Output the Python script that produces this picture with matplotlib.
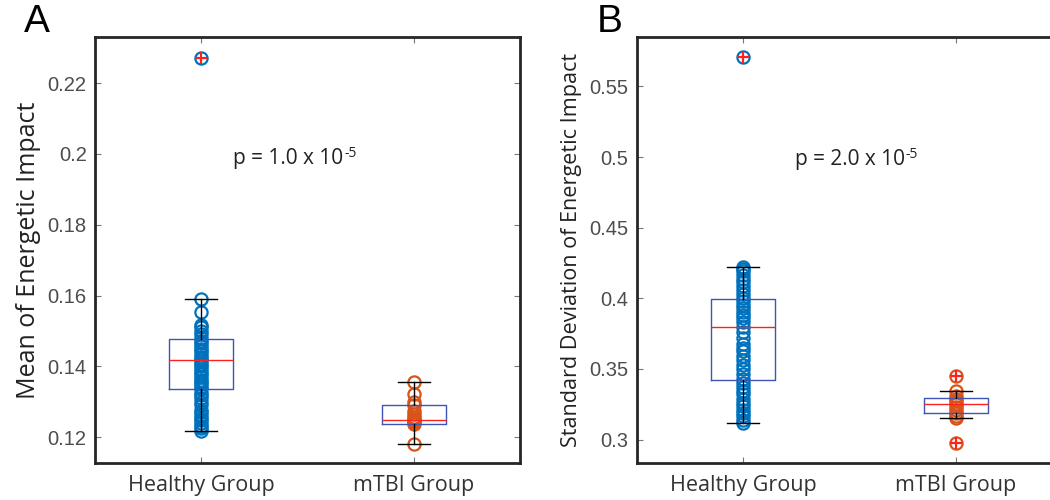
import numpy as np
import matplotlib
matplotlib.use("Agg")
import matplotlib.pyplot as plt

# ---------------- data ----------------
groups = ["Healthy Group", "mTBI Group"]

mean_healthy = [0.1218, 0.1225, 0.1232, 0.1240, 0.1248, 0.1255, 0.1262, 0.1270, 0.1278,
                0.1290, 0.1300, 0.1310, 0.1318, 0.1326, 0.1335, 0.1342, 0.1350, 0.1356,
                0.1362, 0.1370, 0.1378, 0.1385, 0.1392, 0.1400, 0.1407, 0.1414, 0.1420,
                0.1427, 0.1434, 0.1442, 0.1450, 0.1458, 0.1465, 0.1472, 0.1480, 0.1490,
                0.1500, 0.1510, 0.1518, 0.1554, 0.1589, 0.2271]
mean_mtbi = [0.1181, 0.1238, 0.1242, 0.1245, 0.1248, 0.1252, 0.1258, 0.1265, 0.1275,
             0.1290, 0.1300, 0.1321, 0.1355]

std_healthy = [0.3120, 0.3140, 0.3165, 0.3190, 0.3210, 0.3235, 0.3260, 0.3290, 0.3320,
               0.3345, 0.3370, 0.3400, 0.3430, 0.3465, 0.3500, 0.3530, 0.3560, 0.3590,
               0.3625, 0.3650, 0.3680, 0.3720, 0.3760, 0.3800, 0.3830, 0.3860, 0.3880,
               0.3905, 0.3930, 0.3955, 0.3980, 0.4005, 0.4030, 0.4060, 0.4090, 0.4115,
               0.4140, 0.4165, 0.4190, 0.4210, 0.4223, 0.5706]
std_mtbi = [0.2973, 0.3153, 0.3170, 0.3190, 0.3210, 0.3230, 0.3250, 0.3270, 0.3290,
            0.3310, 0.3345, 0.3450]

# box statistics (whislo, q1, med, q3, whishi) per group
mean_box_healthy = [0.1218, 0.1337, 0.1417, 0.1477, 0.1589]
mean_box_mtbi = [0.1181, 0.1238, 0.1248, 0.1292, 0.1355]
mean_fliers_healthy = [0.2271]
mean_fliers_mtbi = []

std_box_healthy = [0.3120, 0.3425, 0.3798, 0.3992, 0.4223]
std_box_mtbi = [0.3153, 0.3186, 0.3250, 0.3291, 0.3345]
std_fliers_healthy = [0.5706]
std_fliers_mtbi = [0.3450, 0.2973]

mean_yticks = [0.12, 0.14, 0.16, 0.18, 0.2, 0.22]
mean_yticklabels = ["0.12", "0.14", "0.16", "0.18", "0.2", "0.22"]
std_yticks = [0.3, 0.35, 0.4, 0.45, 0.5, 0.55]
std_yticklabels = ["0.3", "0.35", "0.4", "0.45", "0.5", "0.55"]

p_base_A = "p = 1.0 x 10"
p_base_B = "p = 2.0 x 10"
p_exp = "-5"

# ---------------- style ----------------
BLUE = "#0072BD"
ORANGE = "#D95319"
BOXC = "#3f55b4"
MEDC = "#ff2020"
TICKC = "#4d4d4d"
LABEL_FONT = "Open Sans"
TICK_FONT = "Liberation Sans"

fig = plt.figure(figsize=(10.5, 5.0), dpi=100)


def make_stats(box, fliers):
    return dict(whislo=box[0], q1=box[1], med=box[2], q3=box[3], whishi=box[4],
                fliers=fliers)


def panel(rect, pts, boxes, fliers, ylim, yticks, yticklabels, ylabel, ylabel_size,
          pbase, ptxy, letter, letterx):
    ax = fig.add_axes(rect)
    colors = [BLUE, ORANGE]
    for i, (vals, c) in enumerate(zip(pts, colors)):
        ax.plot(np.full(len(vals), i + 1.0), vals, 'o', mfc='none', mec=c,
                ms=8.8, mew=1.6, zorder=2)
    stats = [make_stats(b, f) for b, f in zip(boxes, fliers)]
    ax.bxp(stats, positions=[1, 2], widths=0.30, capwidths=0.15, showfliers=True,
           boxprops=dict(color=BOXC, linewidth=1.0),
           medianprops=dict(color=MEDC, linewidth=1.0),
           whiskerprops=dict(color='black', linewidth=1.0),
           capprops=dict(color='black', linewidth=1.0),
           flierprops=dict(marker='+', markeredgecolor=MEDC, markersize=9,
                           markeredgewidth=1.6, linestyle='none'),
           manage_ticks=False, zorder=3)
    ax.set_xlim(0.5, 2.5)
    ax.set_ylim(*ylim)
    ax.set_xticks([1, 2])
    ax.set_xticklabels(groups, fontfamily=LABEL_FONT, fontsize=15.5, color="#333333")
    ax.set_yticks(yticks)
    ax.set_yticklabels(yticklabels, fontfamily=TICK_FONT, fontsize=14.5, color=TICKC)
    ax.tick_params(axis='both', direction='in', length=4, width=0.8, color='#777777',
                   top=True, right=True)
    ax.tick_params(axis='x', pad=9)
    ax.tick_params(axis='y', pad=6)
    for s in ax.spines.values():
        s.set_color('#262626')
        s.set_linewidth(2.0)
    ax.set_ylabel(ylabel, fontfamily=LABEL_FONT, fontsize=ylabel_size, color="#222222",
                  labelpad=5)
    t = ax.text(ptxy[0], ptxy[1], pbase, fontfamily=LABEL_FONT, fontsize=15,
                color="#222222", ha='left', va='center')
    fig.canvas.draw()
    bb = t.get_window_extent()
    ymid = 0.5 * (bb.y0 + bb.y1) + 1.5
    fig.text(bb.x1 / fig.dpi / fig.get_figwidth() + 0.0008,
             ymid / fig.dpi / fig.get_figheight(), p_exp,
             fontfamily=LABEL_FONT, fontsize=10, color="#222222", ha='left',
             va='baseline')
    fig.text(letterx, 0.955, letter, fontfamily="Liberation Sans", fontsize=28,
             color='black', ha='left', va='center')
    return ax


axA = panel([95 / 1050, 37 / 500, 425 / 1050, 426 / 500],
            [mean_healthy, mean_mtbi], [mean_box_healthy, mean_box_mtbi],
            [mean_fliers_healthy, mean_fliers_mtbi],
            (0.1127, 0.2330), mean_yticks, mean_yticklabels,
            "Mean of Energetic Impact", 18, p_base_A, (1.15, 0.1988), "A", 24 / 1050)

axB = panel([636.7 / 1050, 37 / 500, 425.3 / 1050, 426 / 500],
            [std_healthy, std_mtbi], [std_box_healthy, std_box_mtbi],
            [std_fliers_healthy, std_fliers_mtbi],
            (0.2834, 0.5850), std_yticks, std_yticklabels,
            "Standard Deviation of Energetic Impact", 15.6, p_base_B, (1.245, 0.498),
            "B", 597 / 1050)

fig.savefig("out.png", dpi=100)
